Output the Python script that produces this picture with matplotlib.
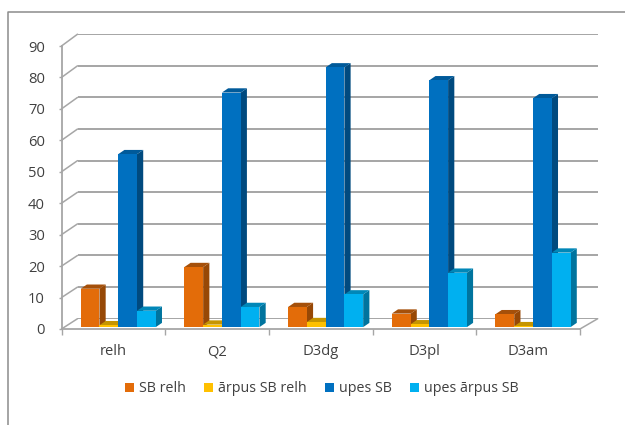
import matplotlib
matplotlib.use("Agg")
import matplotlib.pyplot as plt
from matplotlib.lines import Line2D
from matplotlib.patches import ConnectionPatch, Patch, Polygon

plt.rcParams['font.family'] = ['Open Sans', 'DejaVu Sans']
plt.rcParams['font.size'] = 10.6

categories = ["relh", "Q2", "D3dg", "D3pl", "D3am"]
series_names = ["SB relh", "ārpus SB relh", "upes SB", "upes ārpus SB"]
sb_relh = [12.2, 19.1, 6.4, 4.3, 4.1]
arpus_sb_relh = [0.6, 0.8, 1.6, 0.9, 0.3]
upes_sb = [55.0, 74.6, 82.6, 78.5, 72.8]
upes_arpus_sb = [5.2, 6.4, 10.4, 17.3, 23.7]
y_ticks = [0, 10, 20, 30, 40, 50, 60, 70, 80, 90]

all_series = [sb_relh, arpus_sb_relh, upes_sb, upes_arpus_sb]
# front, side, top
colors = [("#E36C09", "#974806", "#A5500A"),
          ("#FFC000", "#B48A00", "#C69500"),
          ("#0070C0", "#004A7F", "#005A9A"),
          ("#00B0F0", "#00749E", "#0087B8")]

text_color = "#404040"
grid_color = "#969696"
axis_color = "#A6A6A6"

W, H = 625, 425


def pixel_axes(left, right, top, bottom):
    return fig.add_axes([left / W, 1 - bottom / H, (right - left) / W, (bottom - top) / H])


fig = plt.figure(figsize=(W / 100, H / 100), dpi=100)

# thin frame on the top and left of the figure
fig.add_artist(Line2D([7.5 / W, 7.5 / W, 1], [0, 1 - 11.5 / H, 1 - 11.5 / H],
                      color="#8C8C8C", lw=1.1))

# back wall
back = pixel_axes(77.5, 597.7, 34.2, 318.7)
back.set_xlim(0, 5)
back.set_ylim(0, 90)
back.set_yticks(y_ticks)
back.set_xticks([])
back.tick_params(left=False, labelleft=False)
back.grid(axis='y', color=grid_color, lw=1.2)
for s in back.spines.values():
    s.set_visible(False)
back.patch.set_visible(False)

# front plane with the bars
ax = pixel_axes(61.5, 580, 46, 329)
ax.set_xlim(0, 5)
ax.set_ylim(0, 90)
ax.patch.set_visible(False)
for s in ["top", "right"]:
    ax.spines[s].set_visible(False)
for s in ["left", "bottom"]:
    ax.spines[s].set_color(axis_color)
    ax.spines[s].set_linewidth(1.3)
ax.set_yticks(y_ticks)
ax.set_xticks(range(6))
ax.set_xticklabels([])
ax.set_xticks([i + 0.5 for i in range(5)], minor=True)
ax.set_xticklabels(categories, minor=True, color=text_color)
ax.tick_params(axis='y', length=2, width=1, color=axis_color, labelcolor=text_color, pad=10)
ax.tick_params(axis='x', which='major', length=4, width=1, color=axis_color)
ax.tick_params(axis='x', which='minor', length=0, pad=11)

# wall and floor edges running from the front plane to the back
for v in y_ticks:
    fig.add_artist(ConnectionPatch((0, v), (0, v), coordsA=ax.transData, coordsB=back.transData,
                                   color=axis_color, lw=1.1))
fig.add_artist(ConnectionPatch((5, 0), (5, 0), coordsA=ax.transData, coordsB=back.transData,
                               color=axis_color, lw=1.1))

bar_w = 0.181
first_bar = 0.185
depth_x = 0.06
depth_y = 1.35
lift = 0.6

for i, values in enumerate(all_series):
    front, side, top = colors[i]
    for j, v in enumerate(values):
        x0 = j + first_bar + i * bar_w
        x1 = x0 + bar_w
        y0 = lift
        y1 = lift + v
        ax.bar(x0, v, bar_w, bottom=y0, align='edge', color=front, lw=0, zorder=3 + i + 0.2)
        ax.add_patch(Polygon([(x1, y0), (x1 + depth_x, y0 + depth_y), (x1 + depth_x, y1 + depth_y), (x1, y1)],
                             closed=True, color=side, lw=0, zorder=3 + i))
        ax.add_patch(Polygon([(x0, y1), (x0 + depth_x, y1 + depth_y), (x1 + depth_x, y1 + depth_y), (x1, y1)],
                             closed=True, color=top, lw=0, zorder=3 + i))

handles = [Patch(color=c[0], lw=0) for c in colors]
fig.legend(handles, series_names, ncols=4, loc='center', bbox_to_anchor=(322 / W, 1 - 389 / H),
           frameon=False, labelcolor=text_color, fontsize=10.3, handlelength=0.65, handleheight=0.65,
           handletextpad=0.35, columnspacing=1.25, borderpad=0, borderaxespad=0)

fig.savefig("out.png", dpi=100)
